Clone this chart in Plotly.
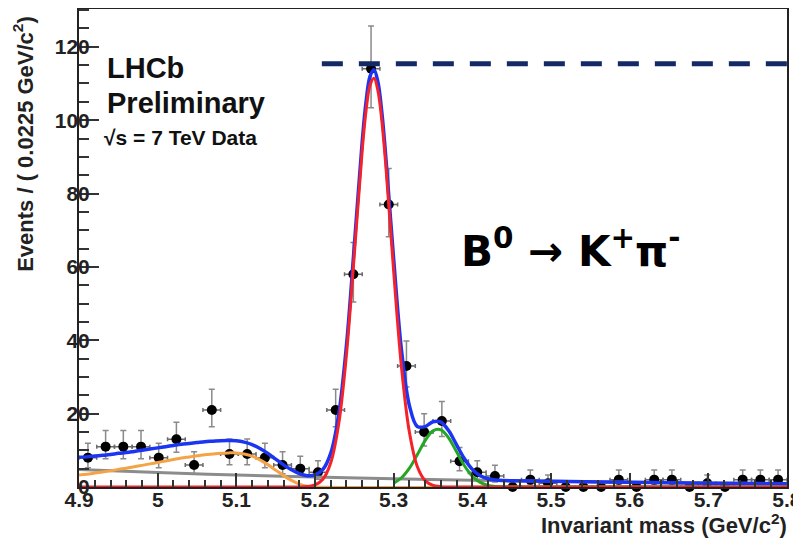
import plotly.graph_objects as go

# ---------------- data ----------------
mass = [4.91125, 4.93375, 4.95625, 4.97875, 5.00125, 5.02375, 5.04625, 5.06875,
        5.09125, 5.11375, 5.13625, 5.15875, 5.18125, 5.20375, 5.22625, 5.24875,
        5.27125, 5.29375, 5.31625, 5.33875, 5.36125, 5.38375, 5.40625, 5.42875,
        5.45125, 5.47375, 5.49625, 5.51875, 5.54125, 5.56375, 5.58625, 5.60875,
        5.63125, 5.65375, 5.67625, 5.69875, 5.72125, 5.74375, 5.76625, 5.78875]
counts = [8, 11, 11, 11, 8, 13, 6, 21, 9, 9, 8, 6, 5, 4, 21, 58, 114, 77, 33, 15,
          18, 7, 4, 3, 0, 2, 1, 0, 0, 0, 2, 0, 2, 2, 0, 1, 0, 2, 2, 2]
err_up = [3.95, 4.41, 4.41, 4.41, 3.95, 4.67, 3.58, 5.62, 4.11, 4.11, 3.95, 3.58, 3.38, 3.16,
          5.62, 8.66, 11.68, 9.80, 6.80, 4.95, 5.30, 3.77, 3.16, 2.92, 1.15, 2.64, 2.30,
          1.15, 1.15, 1.15, 2.64, 1.15, 2.64, 2.64, 1.15, 2.30, 1.15, 2.64, 2.64, 2.64]
err_dn = [2.77, 3.27, 3.27, 3.27, 2.77, 3.56, 2.38, 4.55, 2.94, 2.94, 2.77, 2.38, 2.16, 1.91,
          4.55, 7.58, 10.65, 8.75, 5.72, 3.82, 4.20, 2.58, 1.91, 1.63, 0, 1.29, 0.83,
          0, 0, 0, 1.29, 0, 1.29, 1.29, 0, 0.83, 0, 1.29, 1.29, 1.29]
half_bin = 0.01125

# combinatorial background (grey)
comb_x = [4.90, 5.00, 5.10, 5.20, 5.30, 5.40, 5.50, 5.60, 5.70, 5.80]
comb_y = [4.80, 3.95, 3.25, 2.70, 2.25, 1.85, 1.55, 1.28, 1.06, 0.88]

# partially reconstructed background (orange)
part_x = [4.90, 4.91, 4.92, 4.93, 4.94, 4.95, 4.96, 4.97, 4.98, 4.99, 5.00, 5.01, 5.02,
          5.03, 5.04, 5.05, 5.06, 5.07, 5.08, 5.09, 5.10, 5.11, 5.12, 5.13, 5.14, 5.15,
          5.16, 5.17, 5.18, 5.19, 5.20, 5.50, 5.80]
part_y = [3.3, 3.5, 3.8, 4.1, 4.4, 4.8, 5.1, 5.5, 5.9, 6.3, 6.7, 7.1, 7.5, 7.9, 8.2, 8.5,
          8.8, 9.0, 9.2, 9.3, 9.3, 9.0, 8.4, 7.4, 6.1, 4.6, 3.1, 1.8, 0.8, 0.2, 0.0, 0.0, 0.0]

# B0 -> K+ pi- signal (red)
sig_x = [4.90, 5.17, 5.18, 5.19, 5.20, 5.21, 5.22, 5.23, 5.24, 5.25, 5.26, 5.265, 5.27,
         5.275, 5.28, 5.285, 5.29, 5.30, 5.31, 5.32, 5.33, 5.34, 5.35, 5.36, 5.37, 5.38, 5.80]
sig_y = [0.0, 0.0, 0.02, 0.12, 0.56, 2.11, 6.61, 17.0, 36.2, 63.5, 91.8, 102.8, 109.6,
         111.4, 108.0, 99.7, 87.7, 58.8, 32.5, 14.9, 5.58, 1.73, 0.44, 0.10, 0.02, 0.0, 0.0]

# second peak (green)
bs_x = [5.30, 5.31, 5.32, 5.33, 5.34, 5.35, 5.36, 5.37, 5.38, 5.39, 5.40, 5.41, 5.42,
        5.43, 5.44, 5.45, 5.80]
bs_y = [1.04, 2.52, 5.13, 8.79, 12.65, 15.31, 15.58, 13.33, 9.58, 5.79, 2.94, 1.26, 0.45,
        0.14, 0.03, 0.0, 0.0]

# total fit (blue)
tot_x = [4.90, 4.91, 4.92, 4.93, 4.94, 4.95, 4.96, 4.97, 4.98, 4.99, 5.00, 5.01, 5.02,
         5.03, 5.04, 5.05, 5.06, 5.07, 5.08, 5.09, 5.10, 5.11, 5.12, 5.13, 5.14, 5.15,
         5.16, 5.17, 5.18, 5.19, 5.20, 5.21, 5.22, 5.23, 5.24, 5.25, 5.26, 5.265, 5.27,
         5.275, 5.28, 5.285, 5.29, 5.30, 5.31, 5.32, 5.33, 5.34, 5.35, 5.36, 5.37, 5.38,
         5.39, 5.40, 5.41, 5.42, 5.43, 5.44, 5.45, 5.50, 5.60, 5.70, 5.80]
tot_y = [8.10, 8.21, 8.42, 8.63, 8.85, 9.17, 9.38, 9.70, 10.03, 10.35, 10.67, 11.00, 11.33,
         11.65, 11.88, 12.11, 12.35, 12.48, 12.62, 12.65, 12.59, 12.23, 11.57, 10.51, 9.15,
         7.59, 6.04, 4.68, 3.65, 3.09, 3.28, 4.78, 9.23, 19.57, 38.72, 65.97, 94.23, 105.2,
         111.98, 113.76, 110.34, 102.02, 89.99, 62.09, 37.23, 22.2, 16.5, 16.47, 17.8, 17.69,
         15.32, 11.51, 7.69, 4.80, 3.09, 2.24, 1.90, 1.75, 1.69, 1.54, 1.27, 1.05, 0.87]

peak_level = 115.4

x_ticks = [4.9, 5.0, 5.1, 5.2, 5.3, 5.4, 5.5, 5.6, 5.7, 5.8]
x_ticktext = ["4.9", "5", "5.1", "5.2", "5.3", "5.4", "5.5", "5.6", "5.7", "5.8"]
y_ticks = [0, 20, 40, 60, 80, 100, 120]

# ---------------- figure ----------------
FONT = "Liberation Sans, Arial, Helvetica, sans-serif"

fig = go.Figure()

fig.add_trace(go.Scatter(
    x=mass, y=counts, mode="markers",
    marker=dict(color="black", size=10),
    error_y=dict(type="data", symmetric=False, array=err_up, arrayminus=err_dn,
                 color="#8a8a8a", thickness=1.5, width=3),
    error_x=dict(type="constant", value=half_bin, color="#6a6a6a", thickness=1.5, width=2),
    cliponaxis=False, showlegend=False))

line_kw = dict(mode="lines", line_shape="spline", showlegend=False, hoverinfo="skip")
fig.add_trace(go.Scatter(x=comb_x, y=comb_y, line=dict(color="#8c8c8c", width=3), **line_kw))
fig.add_trace(go.Scatter(x=part_x, y=part_y, line=dict(color="#f4a347", width=3), **line_kw))
fig.add_trace(go.Scatter(x=tot_x, y=tot_y, line=dict(color="#1c35f2", width=3.5), **line_kw))
fig.add_trace(go.Scatter(x=bs_x, y=bs_y, line=dict(color="#23a623", width=3), **line_kw))
fig.add_trace(go.Scatter(x=sig_x, y=sig_y, line=dict(color="#f5222a", width=3), **line_kw))

fig.add_shape(type="line", xref="paper", yref="y", x0=0.343, x1=1.007,
              y0=peak_level, y1=peak_level,
              line=dict(color="#142a66", width=5, dash="21px,16px"))

axis_common = dict(showline=True, linecolor="#222222", linewidth=2, mirror=True,
                   ticks="inside", tickcolor="#333333", tickwidth=2,
                   showgrid=False, zeroline=False, automargin=False,
                   ticklabeloverflow="allow",
                   tickfont=dict(family=FONT, size=21, color="#222222", weight="bold"))

fig.update_xaxes(range=[4.8999, 5.8001], tickvals=x_ticks, ticktext=x_ticktext, ticklen=14,
                 ticklabelstandoff=-7,
                 minor=dict(ticks="inside", dtick=0.02, ticklen=7, tickcolor="#333333",
                            tickwidth=1.5),
                 **axis_common)
fig.update_yaxes(range=[0, 130.3], tickvals=y_ticks, ticklen=20,
                 ticklabelstandoff=-17,
                 minor=dict(ticks="inside", dtick=5, ticklen=10, tickcolor="#333333",
                            tickwidth=1.5),
                 **axis_common)

ann = []
ann.append(dict(text="Events / ( 0.0225 GeV/c<sup>2</sup>)", textangle=-90,
                xref="paper", yref="paper", x=-0.079, y=0.99, xanchor="center",
                yanchor="top", showarrow=False,
                font=dict(family=FONT, size=22, color="#222222", weight="bold")))
ann.append(dict(text="Invariant mass (GeV/c<sup>2</sup>)", xref="paper", yref="paper",
                x=1.003, y=-0.077, xanchor="right", yanchor="middle", showarrow=False,
                font=dict(family=FONT, size=22, color="#222222", weight="bold")))
ann.append(dict(text="LHCb", xref="paper", yref="paper", x=0.037, y=0.877,
                xanchor="left", yanchor="middle", showarrow=False,
                font=dict(family=FONT, size=29, color="#111111", weight="bold")))
ann.append(dict(text="Preliminary", xref="paper", yref="paper", x=0.037, y=0.803,
                xanchor="left", yanchor="middle", showarrow=False,
                font=dict(family=FONT, size=29, color="#111111", weight="bold")))
ann.append(dict(text="√s = 7 TeV Data", xref="paper", yref="paper", x=0.032, y=0.732,
                xanchor="left", yanchor="middle", showarrow=False,
                font=dict(family=FONT, size=21, color="#111111", weight="bold")))
ann.append(dict(text="B<sup>0</sup> → K<sup>+</sup>π<sup>-</sup>", xref="paper",
                yref="paper", x=0.695, y=0.5, xanchor="center", yanchor="middle",
                showarrow=False,
                font=dict(family="DejaVu Sans, sans-serif", size=42, color="#000000",
                          weight="bold")))

# the page body has an 8 px margin, so the figure is sized to fit the 801x540 window
fig.update_layout(width=793, height=532, margin=dict(l=71, r=14, t=1, b=53),
                  paper_bgcolor="white", plot_bgcolor="white", annotations=ann,
                  showlegend=False)

fig.write_html("out.html")
